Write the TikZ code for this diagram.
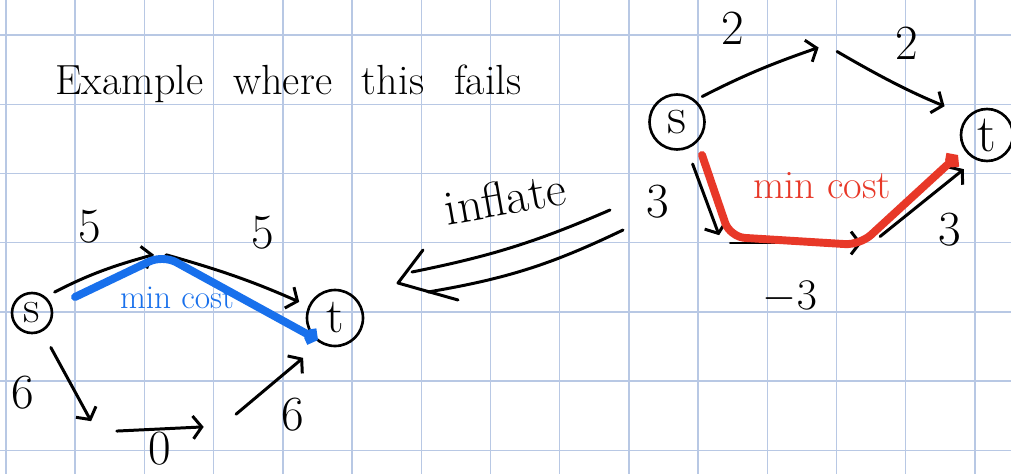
\documentclass[tikz,border=0pt]{standalone}
\usepackage{amsmath, amssymb}
\usepackage{tikz}
\usetikzlibrary{arrows.meta}

\definecolor{gridblue}{RGB}{184,200,228}
\definecolor{penblue}{RGB}{24,112,236}
\definecolor{penred}{RGB}{232,56,40}

\tikzset{
  gridline/.style={gridblue, line width=0.8pt},
  pen/.style={line width=1.7pt, line cap=round, line join=round},
  vertex/.style={draw, circle, line width=1.5pt, inner sep=0pt},
  hub/.style={circle, inner sep=0pt},
  link/.style={pen, -{Straight Barb[length=5pt,width=13pt]}},
  weight/.style={font=\fontsize{28}{30}\selectfont},
  mincost/.style={line width=4.5pt, line cap=round, line join=round, rounded corners=0.3cm,
    -{Straight Barb[length=3pt,width=8pt]}},
}

\begin{document}
\begin{tikzpicture}[x=0.02cm, y=-0.02cm]
    % paper
    \fill[white] (0,0) rectangle (1011,474);
    \useasboundingbox (0,0) rectangle (1011,474);
    \foreach \i in {0,...,14}
        \draw[gridline] ({6+69.2*\i},0) -- ({6+69.2*\i},474);
    \foreach \j in {0,...,6}
        \draw[gridline] (0,{35+69.2*\j}) -- (1011,{35+69.2*\j});

    % title
    \node[anchor=base west, inner sep=0pt] (title) at (55,94)
        {\fontsize{24}{28}\selectfont\spaceskip=17pt Example where this fails};

    % left graph (inflated)
    \node[vertex, minimum size=0.8cm, font=\fontsize{26}{28}\selectfont] (sL) at (32,313) {s};
    \node[vertex, minimum size=1.12cm, font=\fontsize{28}{30}\selectfont] (tL) at (335,318) {t};
    \node[hub, minimum size=0.24cm] (aL) at (160,253) {};
    \node[hub, minimum size=0.48cm] (bL) at (97,432) {};
    \node[hub, minimum size=0.72cm] (cL) at (222,426) {};

    \draw[link, shorten <=0.2cm] (sL.50) to[bend left=6] (aL);
    \draw[link, shorten >=0.2cm] (aL) to[bend left=4] (tL);
    \draw[link, shorten <=0.36cm] (sL) -- (bL);
    \draw[link, shorten <=0.15cm] (bL) -- (cL);
    \draw[link, shorten >=0.45cm] (cL) -- (tL.240);

    \node[weight] (wsa) at (90,227) {5};
    \node[weight] (wat) at (263,233) {5};
    \node[weight] (wsb) at (23,393) {6};
    \node[weight] (wbc) at (160,449) {0};
    \node[weight] (wct) at (293,415) {6};

    \draw[mincost, penblue] ([shift={(43,-16)}]sL.center) -- ([shift={(3,2)}]aL.center)
        -- ([shift={(-17,22)}]tL.center);
    \node[penblue, font=\fontsize{19}{21}\selectfont] (costL) at (177,298) {min cost};

    % inflate arrow
    \coordinate (infUA) at (610,210);
    \coordinate (infUB) at (412,272);
    \coordinate (infLA) at (623,230);
    \coordinate (infLB) at (428,292);
    \coordinate (infTip) at (398,283);
    \coordinate (infBarbA) at (423,250);
    \coordinate (infBarbB) at (458,300);
    \draw[pen] (infUA) to[bend left=6] (infUB);
    \draw[pen] (infLA) to[bend left=8] (infLB);
    \draw[pen] (infBarbA) -- (infTip) -- (infBarbB);
    \node[rotate=10, font=\fontsize{28}{30}\selectfont] (inflate) at (505,198) {inflate};

    % right graph (with a negative edge)
    \node[vertex, minimum size=1.1cm, font=\fontsize{30}{32}\selectfont] (sR) at (677,122) {s};
    \node[vertex, minimum size=1.04cm, font=\fontsize{30}{32}\selectfont] (tR) at (987,135) {t};
    \node[hub, minimum size=0.3cm] (aR) at (826,45) {};
    \node[hub, minimum size=0.32cm] (bR) at (722,243) {};
    \node[hub, minimum size=0.4cm] (cR) at (872,243) {};

    \draw[link, shorten <=0.15cm] (sR.50) to[bend left=4] (aR);
    \draw[link, shorten <=0.1cm, shorten >=0.5cm] (aR) to[bend right=4] (tR.135);
    \draw[link, shorten <=0.32cm] (sR) -- (bR);
    \draw[link] (bR) -- (cR);
    \draw[link, shorten >=0.3cm] (cR) -- (tR.245);

    \node[weight] (wsaR) at (733,28) {2};
    \node[weight] (watR) at (907,43) {2};
    \node[weight] (wsbR) at (658,202) {3};
    \node[weight] (wbcR) at (790,297) {$-3$};
    \node[weight] (wctR) at (950,230) {3};

    \draw[mincost, penred] ([shift={(25,33)}]sR.center) -- ([shift={(8,-6)}]bR.center)
        -- ([shift={(-12,2)}]cR.center) -- ([shift={(-29,20)}]tR.center);
    \node[penred, font=\fontsize{23}{25}\selectfont] (costR) at (822,186) {min cost};
\end{tikzpicture}
\end{document}
